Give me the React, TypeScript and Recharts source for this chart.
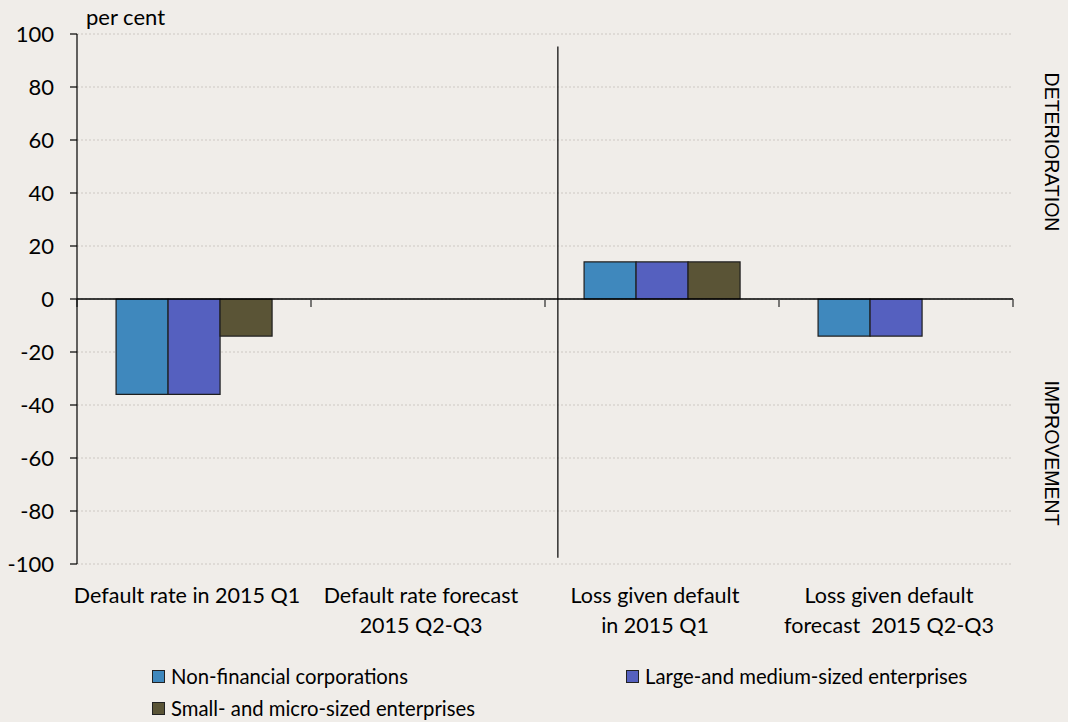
import React from 'react';
import { BarChart, Bar, XAxis, YAxis, CartesianGrid, ReferenceLine } from 'recharts';

const categories = [
  'Default rate in 2015 Q1',
  'Default rate forecast\n2015 Q2-Q3',
  'Loss given default\nin 2015 Q1',
  'Loss given default\nforecast  2015 Q2-Q3',
];
const nonFinancial = [-36, 0, 14, -14];
const largeMedium = [-36, 0, 14, -14];
const smallMicro: (number | null)[] = [-14, 0, 14, null];
const seriesNames = [
  'Non-financial corporations',
  'Large-and medium-sized enterprises',
  'Small- and micro-sized enterprises',
];
const seriesColors = ['#3f88bd', '#5560bf', '#5a5436'];
const yTicks = [-100, -80, -60, -40, -20, 0, 20, 40, 60, 80, 100];
const boundaries = [0, 1, 2, 3, 4];
const dividerX = 2.055;

const data = categories.map((name, i) => ({
  name,
  slot: i + 0.5,
  nf: nonFinancial[i],
  lm: largeMedium[i],
  sm: smallMicro[i],
}));

const FONT = 'Lato, "Open Sans", sans-serif';
const BG = '#f0ede9';

const XTick = (props: any) => {
  const { x, y, payload } = props;
  const lines = String(payload.value).split('\n');
  return (
    <g>
      <text x={x} y={y} textAnchor="middle" fontFamily={FONT} fontSize={21.5} fill="#000" style={{ whiteSpace: 'pre' }}>
        {lines.map((l, i) => (
          <tspan key={i} x={x - 7} dy={i === 0 ? 39 : 30}>
            {l}
          </tspan>
        ))}
      </text>
    </g>
  );
};

export default function App() {
  const keys = ['nf', 'lm', 'sm'];
  return (
    <div
      style={{
        position: 'absolute',
        left: 0,
        top: 0,
        width: 1068,
        height: 722,
        background: BG,
        boxShadow: `0 0 0 200px ${BG}`,
        fontFamily: FONT,
        overflow: 'hidden',
      }}
    >
      <BarChart
        width={1068}
        height={722}
        data={data}
        margin={{ top: 34, right: 55, bottom: 0, left: 0 }}
        barCategoryGap="16.7%"
        barGap={0}
      >
        <CartesianGrid xAxisId="cat" vertical={false} stroke="#cdc8c3" strokeDasharray="2 2" />
        <XAxis
          xAxisId="cat"
          dataKey="name"
          axisLine={false}
          tickLine={false}
          tickSize={0}
          tickMargin={0}
          height={158}
          interval={0}
          tick={<XTick />}
        />
        <XAxis xAxisId="num" dataKey="slot" type="number" domain={[0, 4]} allowDataOverflow hide />
        <YAxis
          type="number"
          domain={[-100, 100]}
          ticks={yTicks}
          width={77}
          tickSize={7}
          tickMargin={16}
          axisLine={{ stroke: '#000', strokeWidth: 1.2 }}
          tickLine={{ stroke: '#000', strokeWidth: 1.2 }}
          tick={{ fontFamily: FONT, fontSize: 22, fill: '#000' }}
          interval={0}
        />
        {keys.map((k, i) => (
          <Bar
            key={k}
            xAxisId="cat"
            dataKey={k}
            name={seriesNames[i]}
            fill={seriesColors[i]}
            stroke="#1e1e1e"
            strokeWidth={1.2}
            isAnimationActive={false}
          />
        ))}
        <ReferenceLine xAxisId="cat" y={0} stroke="#000" strokeWidth={1.4} />
        {boundaries.map((b) => (
          <ReferenceLine
            key={b}
            xAxisId="num"
            segment={[{ x: b, y: 0 }, { x: b, y: -3 }]}
            stroke="#444"
            strokeWidth={1.4}
          />
        ))}
        <ReferenceLine
          xAxisId="num"
          segment={[{ x: dividerX, y: 95.3 }, { x: dividerX, y: -97.6 }]}
          stroke="#000"
          strokeWidth={1.2}
        />
      </BarChart>

      <div style={{ position: 'absolute', left: 86, top: 3, fontSize: 22, color: '#000' }}>per cent</div>

      <div
        style={{
          position: 'absolute',
          left: 1051,
          top: 152,
          transform: 'translate(-50%, -50%) rotate(90deg)',
          fontFamily: '"Liberation Sans", Arial, sans-serif',
          fontSize: 19.5,
          color: '#000',
          whiteSpace: 'nowrap',
        }}
      >
        DETERIORATION
      </div>
      <div
        style={{
          position: 'absolute',
          left: 1051,
          top: 453,
          transform: 'translate(-50%, -50%) rotate(90deg)',
          fontFamily: '"Liberation Sans", Arial, sans-serif',
          fontSize: 19.5,
          color: '#000',
          whiteSpace: 'nowrap',
        }}
      >
        IMPROVEMENT
      </div>

      {[
        { i: 0, left: 152, top: 670 },
        { i: 1, left: 626, top: 670 },
        { i: 2, left: 152, top: 702 },
      ].map(({ i, left, top }) => (
        <div key={i} style={{ position: 'absolute', left, top, display: 'flex', alignItems: 'center', height: 13 }}>
          <div
            style={{
              width: 11,
              height: 11,
              background: seriesColors[i],
              border: '1px solid #222',
              marginRight: 6,
            }}
          />
          <span style={{ fontSize: 20.3, color: '#000', whiteSpace: 'nowrap', lineHeight: '13px' }}>{seriesNames[i]}</span>
        </div>
      ))}
    </div>
  );
}
